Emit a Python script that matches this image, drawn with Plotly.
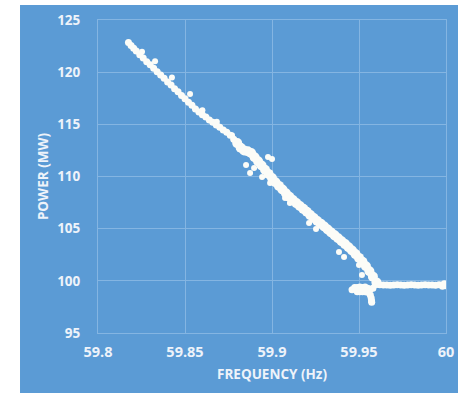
import plotly.graph_objects as go

# ---------------- data ----------------
band_upper_freq = [59.8175, 59.8190, 59.8205, 59.8220, 59.8240, 59.8260, 59.8280, 59.8300,
                   59.8320, 59.8340, 59.8360, 59.8380, 59.8400, 59.8420, 59.8440, 59.8460,
                   59.8480, 59.8500, 59.8520, 59.8540, 59.8560, 59.8580, 59.8600, 59.8620,
                   59.8640, 59.8660, 59.8680, 59.8700, 59.8720, 59.8740, 59.8760, 59.8780]
band_upper_power = [122.85, 122.55, 122.30, 122.02, 121.68, 121.36, 121.00, 120.70,
                    120.38, 120.05, 119.72, 119.42, 119.06, 118.76, 118.42, 118.12,
                    117.76, 117.46, 117.12, 116.82, 116.46, 116.18, 115.92, 115.70,
                    115.42, 115.20, 114.94, 114.72, 114.46, 114.24, 113.96, 113.58]

band_lower_freq = [59.880, 59.882, 59.884, 59.886, 59.888, 59.890, 59.892, 59.894, 59.896,
                   59.898, 59.900, 59.902, 59.904, 59.906, 59.908, 59.910, 59.912, 59.914,
                   59.916, 59.918, 59.920, 59.922, 59.924, 59.926, 59.928, 59.930, 59.932,
                   59.934, 59.936, 59.938, 59.940, 59.942, 59.944, 59.946, 59.948, 59.950,
                   59.952, 59.954, 59.956, 59.958, 59.960]
band_lower_power = [113.20, 112.75, 112.50, 112.42, 112.25, 111.85, 111.45, 111.05, 110.65,
                    110.25, 109.85, 109.45, 109.10, 108.75, 108.40, 108.05, 107.75, 107.45,
                    107.18, 106.90, 106.62, 106.30, 106.02, 105.74, 105.48, 105.20, 104.92,
                    104.64, 104.36, 104.08, 103.80, 103.52, 103.22, 102.90, 102.56, 102.20,
                    101.82, 101.40, 100.92, 100.40, 99.85]

flat_freq = [59.960, 59.962, 59.964, 59.966, 59.968, 59.970, 59.972, 59.974, 59.976, 59.978,
             59.980, 59.982, 59.984, 59.986, 59.988, 59.990, 59.992, 59.994, 59.996, 59.998,
             60.000, 59.998, 59.999, 60.000]
flat_power = [99.65, 99.62, 99.60, 99.60, 99.58, 99.60, 99.62, 99.60, 99.58, 99.60,
              99.62, 99.60, 99.58, 99.60, 99.62, 99.60, 99.60, 99.58, 99.62, 99.60,
              99.60, 99.48, 99.72, 99.52]

corner_freq = [59.9460, 59.9475, 59.9490, 59.9490, 59.9505, 59.9505, 59.9520, 59.9520,
               59.9535, 59.9535, 59.9550, 59.9550, 59.9565, 59.9565, 59.9570, 59.9572,
               59.9573, 59.9580]
corner_power = [99.15, 99.35, 99.35, 98.95, 99.40, 98.95, 99.35, 98.95,
                99.40, 98.95, 99.30, 98.90, 99.20, 98.65, 98.35, 98.10,
                97.95, 99.30]

outlier_freq = [59.8253, 59.8328, 59.8425, 59.8529, 59.8600, 59.8683, 59.8770, 59.8977,
                59.9000, 59.8851, 59.8897, 59.8874, 59.8943, 59.8989, 59.9075, 59.9103,
                59.9213, 59.9253, 59.9385, 59.9414, 59.9500, 59.9517]
outlier_power = [121.95, 121.05, 119.50, 117.90, 116.35, 115.25, 113.95, 111.87,
                 111.68, 111.10, 110.81, 110.33, 109.95, 109.38, 107.94, 107.46,
                 105.54, 104.97, 102.76, 102.28, 101.52, 100.56]

x_tick_vals = [59.8, 59.85, 59.9, 59.95, 60.0]
x_tick_text = ["59.8", "59.85", "59.9", "59.95", "60"]
y_tick_vals = [95, 100, 105, 110, 115, 120, 125]
y_tick_text = ["95", "100", "105", "110", "115", "120", "125"]

# ---------------- styling ----------------
BLUE = "#5b9bd5"
GRID = "#84b5e2"
TXT = "#eef3fa"
DOT = "#fcfcf7"

fig = go.Figure()
for fx, py, sz in [(band_upper_freq, band_upper_power, 7),
                   (band_lower_freq, band_lower_power, 10),
                   (flat_freq, flat_power, 7),
                   (corner_freq, corner_power, 7),
                   (outlier_freq, outlier_power, 6)]:
    fig.add_trace(go.Scatter(x=fx, y=py, mode="markers",
                             marker=dict(color=DOT, size=sz, line=dict(width=0)),
                             showlegend=False, hoverinfo="skip"))

font = dict(family="Open Sans, Lato, sans-serif", color=TXT, weight="bold")

fig.update_layout(
    width=458, height=393,
    margin=dict(l=98, r=12, t=20, b=60, autoexpand=False),
    paper_bgcolor=BLUE, plot_bgcolor=BLUE,
    font=font,
    shapes=[
        dict(type="rect", xref="paper", yref="paper", x0=-0.35, x1=-0.2241, y0=-0.3, y1=1.2,
             fillcolor="white", line=dict(width=0), layer="below"),
        dict(type="rect", xref="paper", yref="paper", x0=-0.35, x1=1.1, y0=1.0479, y1=1.2,
             fillcolor="white", line=dict(width=0), layer="below"),
    ],
)
fig.update_xaxes(range=[59.8, 60.0], tickvals=x_tick_vals, ticktext=x_tick_text,
                 showgrid=True, gridcolor=GRID, gridwidth=1, zeroline=False,
                 showline=True, linecolor=GRID, linewidth=1, mirror=True,
                 ticks="", ticklabelstandoff=6, automargin=False,
                 tickfont=dict(size=14.5, **font),
                 title=dict(text="FREQUENCY (Hz)", font=dict(size=13.5, **font), standoff=9))
fig.update_yaxes(range=[95, 125], tickvals=y_tick_vals, ticktext=y_tick_text,
                 showgrid=True, gridcolor=GRID, gridwidth=1, zeroline=False,
                 showline=True, linecolor=GRID, linewidth=1, mirror=True,
                 ticks="", ticklabelstandoff=14, automargin=False,
                 tickfont=dict(size=13.5, **font),
                 title=dict(text="POWER (MW)", font=dict(size=13.5, **font), standoff=5))

fig.write_html("out.html", config={"displayModeBar": False},
               post_script="document.body.style.margin='0';document.body.style.padding='0';")
